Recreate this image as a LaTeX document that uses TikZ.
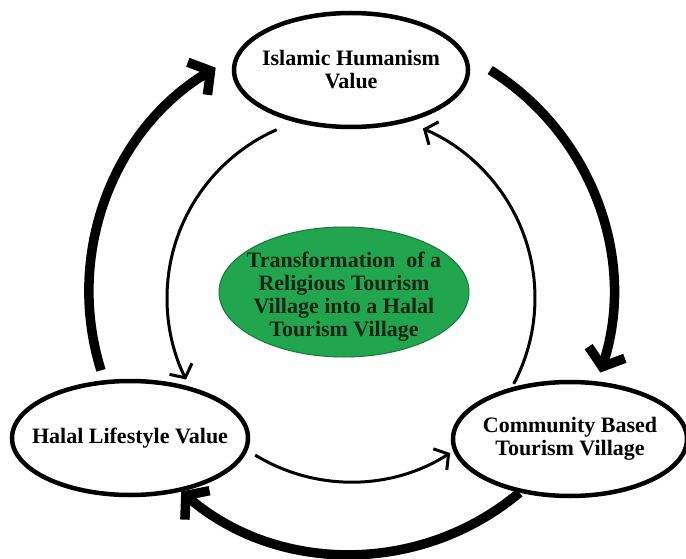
\documentclass[tikz,border=0pt]{standalone}
\usepackage{fontspec}
\setmainfont{Liberation Serif}
\usetikzlibrary{shapes.geometric,arrows.meta}

\definecolor{leafgreen}{RGB}{33,166,79}
\definecolor{darkleaf}{RGB}{24,120,56}
\definecolor{inkgreen}{RGB}{18,36,20}

\begin{document}
\begin{tikzpicture}[x=1pt,y=1pt,
	value/.style={draw, ellipse, line width=4.5pt, inner sep=-30pt,
		minimum width=234pt, minimum height=114pt, align=center,
		font=\fontsize{22}{23}\selectfont\bfseries},
	bigarrow/.style={line width=9.5pt, -{Straight Barb[length=15pt,width=38pt]}},
	smallarrow/.style={line width=3pt, -{Straight Barb[length=10pt,width=25pt]}}]

	\useasboundingbox (0,0) rectangle (686,558);

	\coordinate (ring) at (351,266);
	\coordinate (inring) at (351,260);

	\node[value] (ihv) at (351,488) {Islamic Humanism\\Value};
	\node[value, minimum width=236pt] (hlv) at (130,120) {Halal Lifestyle Value};
	\node[value] (cbv) at (570,119) {Community Based\\Tourism Village};
	\node[value, line width=1pt, draw=darkleaf, fill=leafgreen, text=inkgreen,
		minimum width=250pt, minimum height=130pt] (core) at (344,266)
		{\rule{0pt}{25pt}Transformation\ \ of a\\Religious Tourism\\Village into a Halal\\Tourism Village};

	% outer cycle
	\draw[bigarrow] (ring) ++(197.4:262pt) arc[start angle=197.4, end angle=121.1, radius=262pt];
	\draw[bigarrow] (ring) ++(57.9:262pt) arc[start angle=57.9, end angle=-17.9, radius=262pt];
	\draw[bigarrow] (ring) ++(-50:262pt) arc[start angle=-50, end angle=-130.4, radius=262pt];

	% inner cycle
	\draw[smallarrow] (inring) ++(113.8:184pt) arc[start angle=113.8, end angle=206.3, radius=184pt];
	\draw[smallarrow] (inring) ++(-121.4:184pt) arc[start angle=-121.4, end angle=-57.4, radius=184pt];
	\draw[smallarrow] (inring) ++(-27.8:184pt) arc[start angle=-27.8, end angle=67, radius=184pt];

\end{tikzpicture}
\end{document}
